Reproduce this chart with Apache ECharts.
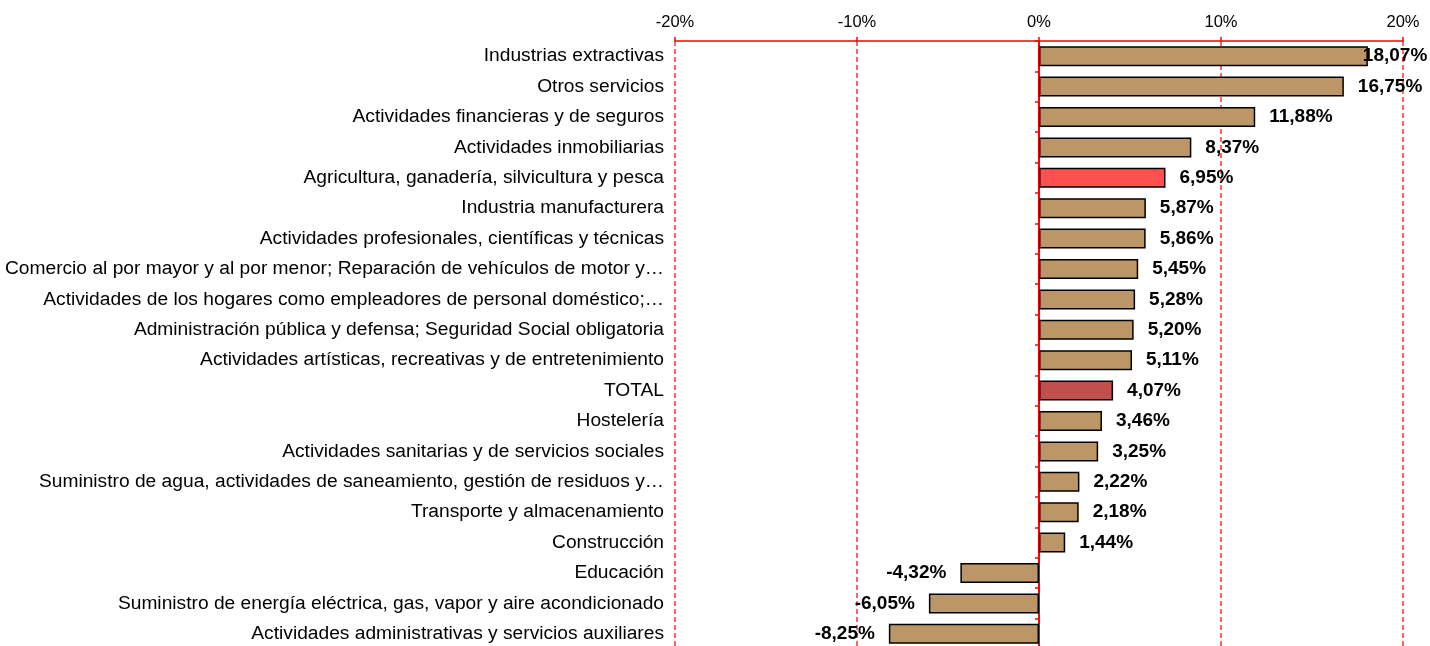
<!DOCTYPE html>
<html><head><meta charset="utf-8">
<script src="https://cdn.jsdelivr.net/npm/echarts@6/dist/echarts.min.js"></script>
<style>html,body{margin:0;padding:0;background:#fff}#c{width:1430px;height:646px}</style>
</head><body><div id="c"></div>
<script>
const categories = [
  "Industrias extractivas",
  "Otros servicios",
  "Actividades financieras y de seguros",
  "Actividades inmobiliarias",
  "Agricultura, ganadería, silvicultura y pesca",
  "Industria manufacturera",
  "Actividades profesionales, científicas y técnicas",
  "Comercio al por mayor y al por menor; Reparación de vehículos de motor y…",
  "Actividades de los hogares como empleadores de personal doméstico;…",
  "Administración pública y defensa; Seguridad Social obligatoria",
  "Actividades artísticas, recreativas y de entretenimiento",
  "TOTAL",
  "Hostelería",
  "Actividades sanitarias y de servicios sociales",
  "Suministro de agua, actividades de saneamiento, gestión de residuos y…",
  "Transporte y almacenamiento",
  "Construcción",
  "Educación",
  "Suministro de energía eléctrica, gas, vapor y aire acondicionado",
  "Actividades administrativas y servicios auxiliares"
];
const values = [18.07, 16.75, 11.88, 8.37, 6.95, 5.87, 5.86, 5.45, 5.28, 5.20, 5.11, 4.07, 3.46, 3.25, 2.22, 2.18, 1.44, -4.32, -6.05, -8.25];
const highlight = {"Agricultura, ganadería, silvicultura y pesca": "#FF4F4F", "TOTAL": "#C0504D"};
const xTicks = [-20, -10, 0, 10, 20];

const baseColor = "#BC9667";
const FONT = 'Liberation Sans, Arial, sans-serif';
const fmt = v => v.toFixed(2).replace('.', ',') + '%';

const data = values.map((v, i) => {
  const label = { position: v >= 0 ? 'right' : 'left' };
  if (i === 0) label.distance = -5;
  return { value: v, itemStyle: { color: highlight[categories[i]] || baseColor }, label: label };
});

const chart = echarts.init(document.getElementById('c'));
chart.setOption({
  animation: false,
  grid: { left: 675, right: 27, top: 41, height: 608, containLabel: false, outerBoundsMode: 'none' },
  xAxis: {
    type: 'value', position: 'top', min: xTicks[0], max: xTicks[xTicks.length - 1], interval: 10,
    axisLine: { show: true, lineStyle: { color: '#FF0000', width: 1.5 } },
    axisTick: { show: true, length: 4, lineStyle: { color: '#FF0000', width: 1.5 } },
    splitLine: { show: true, lineStyle: { color: '#FF3030', type: [5, 3], width: 1.5 } },
    axisLabel: { formatter: v => v + '%', color: '#000', fontFamily: FONT, fontSize: 16.5, margin: 10 }
  },
  yAxis: {
    type: 'category', inverse: true, data: categories,
    axisLine: { show: true, onZero: true, lineStyle: { color: '#FF0000', width: 2 } },
    axisTick: { show: true, length: 4, lineStyle: { color: '#FF0000', width: 1.5 } },
    axisLabel: { color: '#000', fontFamily: FONT, fontSize: 19.2, margin: 11 }
  },
  series: [{
    type: 'bar', data: data, barWidth: 20,
    itemStyle: { borderColor: '#000', borderWidth: 1.5 },
    label: {
      show: true, distance: 14,
      formatter: p => fmt(p.value),
      color: '#000', fontWeight: 'bold', fontFamily: FONT, fontSize: 19
    }
  }]
});
</script></body></html>
